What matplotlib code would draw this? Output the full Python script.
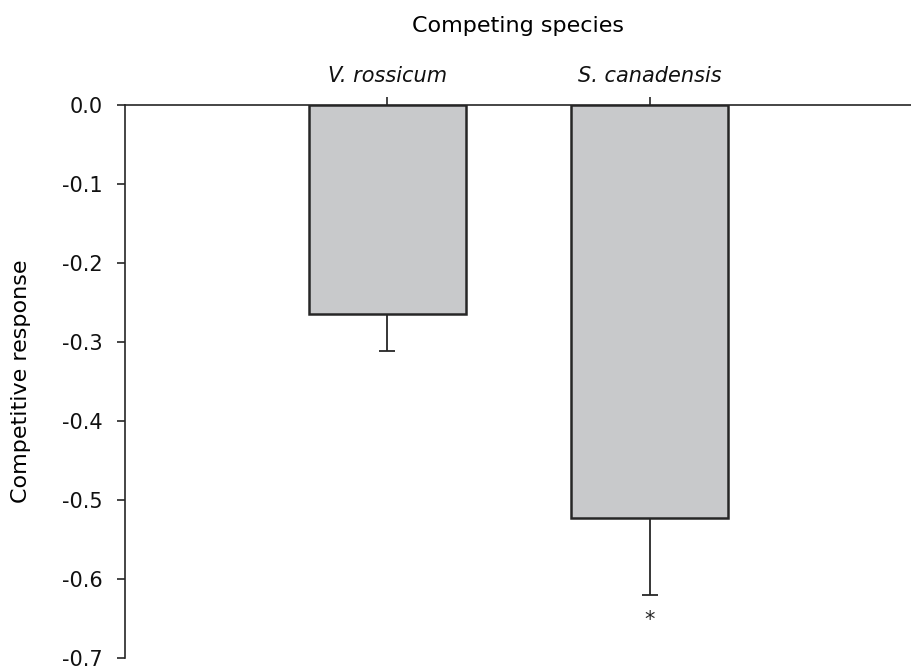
import matplotlib.pyplot as plt
import numpy as np

plt.rcParams['font.family'] = ['DejaVu Sans']

species = ['V. rossicum', 'S. canadensis']
response = [-0.265, -0.523]
se = [0.046, 0.097]
yticks = [0.0, -0.1, -0.2, -0.3, -0.4, -0.5, -0.6, -0.7]


def main():
    fig = plt.figure(figsize=(9.12, 6.70), dpi=100)
    ax = fig.add_axes([0.137, 0.018, 0.863, 0.825])

    dark = '#262626'
    x = np.arange(1, len(species) + 1)

    ax.bar(x, response, width=0.6, color='#c8c9cb', edgecolor=dark,
           linewidth=1.8, zorder=2)
    ax.errorbar(x, response, yerr=[se, [0] * len(se)], fmt='none',
                ecolor=dark, elinewidth=1.3, capsize=6, capthick=1.3, zorder=1)

    # significance marker
    ax.text(2, -0.652, '*', ha='center', va='center', fontsize=15, color=dark)

    ax.set_xlim(0, 3)
    ax.set_ylim(-0.7, 0)
    ax.set_yticks(yticks)
    ax.set_yticklabels([f'{v:.1f}' for v in yticks])
    ax.set_xticks(x)
    ax.set_xticklabels(species, fontstyle='italic')

    ax.xaxis.tick_top()
    ax.xaxis.set_label_position('top')
    ax.set_xlabel('Competing species', fontsize=16, labelpad=24)
    ax.set_ylabel('Competitive response', fontsize=16, labelpad=22)

    for s in ['bottom', 'right']:
        ax.spines[s].set_visible(False)
    for s in ['top', 'left']:
        ax.spines[s].set_color(dark)
        ax.spines[s].set_linewidth(1.2)
    ax.tick_params(axis='both', direction='out', length=6, width=1.2,
                   color=dark, labelsize=15, labelcolor='#111111', pad=10)
    ax.tick_params(axis='x', pad=8)

    fig.savefig('out.png', dpi=100)


if __name__ == '__main__':
    main()
